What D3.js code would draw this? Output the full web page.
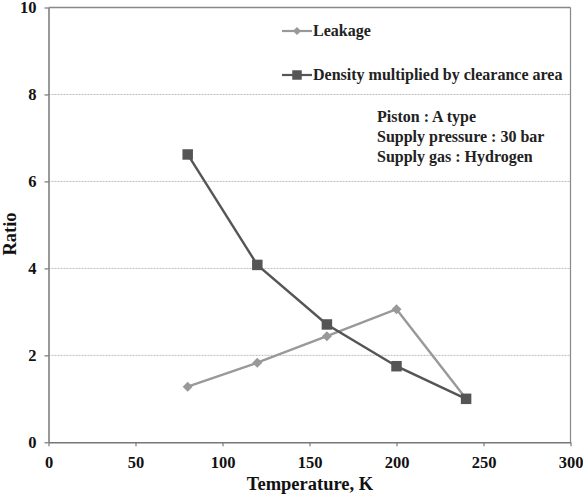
<!DOCTYPE html>
<html><head><meta charset="utf-8">
<script src="https://cdn.jsdelivr.net/npm/d3@7"></script>
<style>body{margin:0;background:#fff}svg{display:block}</style>
</head><body>
<svg id="c" width="583" height="495"></svg>
<script>
const temps = [80, 120, 160, 200, 240];
const leakage = [1.28, 1.83, 2.44, 3.06, 1.0];
const density = [6.62, 4.08, 2.71, 1.75, 1.0];
const xTicks = [0, 50, 100, 150, 200, 250, 300];
const yTicks = [0, 2, 4, 6, 8, 10];
const seriesNames = ["Leakage", "Density multiplied by clearance area"];
const notes = ["Piston : A type", "Supply pressure : 30 bar", "Supply gas : Hydrogen"];

const svg = d3.select("#c");
const font = "'Liberation Serif','Times New Roman',serif";
const x = d3.scaleLinear().domain([0, 300]).range([48.5, 570.5]);
const y = d3.scaleLinear().domain([0, 10]).range([442.3, 7.5]);

// grid
svg.append("g").selectAll("line").data(yTicks.filter(d => d > 0 && d < 10)).join("line")
  .attr("x1", x(0)).attr("x2", x(300)).attr("y1", d => y(d)).attr("y2", d => y(d))
  .attr("stroke", "#bbb").attr("stroke-width", 1).attr("stroke-dasharray", "2,1");
// top and right border
svg.append("line").attr("x1", x(0)).attr("x2", x(300)).attr("y1", y(10)).attr("y2", y(10))
  .attr("stroke", "#888").attr("stroke-width", 1.5);
svg.append("line").attr("x1", x(300)).attr("x2", x(300)).attr("y1", y(10)).attr("y2", y(0))
  .attr("stroke", "#888").attr("stroke-width", 1.2);

// axes
const xa = svg.append("g").attr("transform", `translate(0,${y(0)})`)
  .call(d3.axisBottom(x).tickValues(xTicks).tickSize(4).tickSizeOuter(0).tickPadding(10));
const ya = svg.append("g").attr("transform", `translate(${x(0)},0)`)
  .call(d3.axisLeft(y).tickValues(yTicks).tickSize(4).tickSizeOuter(0).tickPadding(8));
[xa, ya].forEach(a => {
  a.select(".domain").attr("stroke", "#777").attr("stroke-width", 1.5);
  a.selectAll(".tick line").attr("stroke", "#777").attr("stroke-width", 1.2);
  a.selectAll("text").attr("font-family", font).attr("font-weight", "bold")
    .attr("font-size", 16.5).attr("fill", "#111");
});

const line = d3.line().x(d => x(d[0])).y(d => y(d[1]));
const cols = ["#999", "#555"];
const dataL = temps.map((t, i) => [t, leakage[i]]);
const dataD = temps.map((t, i) => [t, density[i]]);

function marker(sel, type, big) {
  if (type === "d") {
    sel.attr("d", d3.symbol().type(d3.symbolSquare).size(big ? 50 : 34))
  } else {
    sel.attr("d", d3.symbol().type(d3.symbolSquare).size(big ? 110 : 90));
  }
}
function drawSeries(data, col, type) {
  svg.append("path").datum(data).attr("d", line).attr("fill", "none")
    .attr("stroke", col).attr("stroke-width", 2.4);
  const m = svg.append("g").selectAll("path").data(data).join("path")
    .attr("transform", d => `translate(${x(d[0])},${y(d[1])})` + (type === "d" ? " rotate(45)" : ""))
    .attr("fill", col);
  marker(m, type, true);
}
drawSeries(dataL, cols[0], "d");
drawSeries(dataD, cols[1], "s");

// legend
const leg = [[31, cols[0], "d"], [75, cols[1], "s"]];
leg.forEach((l, i) => {
  const g = svg.append("g");
  g.append("line").attr("x1", 282).attr("x2", 312).attr("y1", l[0]).attr("y2", l[0])
    .attr("stroke", l[1]).attr("stroke-width", 2.2);
  const m = g.append("path").attr("transform", `translate(297,${l[0]})` + (l[2] === "d" ? " rotate(45)" : ""))
    .attr("fill", l[1]);
  marker(m, l[2], false);
  g.append("text").attr("x", 313).attr("y", l[0] + 5).text(seriesNames[i])
    .attr("font-family", font).attr("font-weight", "bold").attr("font-size", 16).attr("fill", "#222");
});
svg.append("g").selectAll("text").data(notes).join("text")
  .attr("x", 377).attr("y", (d, i) => 122 + i * 20).text(d => d)
  .attr("font-family", font).attr("font-weight", "bold").attr("font-size", 16).attr("fill", "#222");

// axis titles
svg.append("text").attr("x", 310).attr("y", 490).attr("text-anchor", "middle")
  .text("Temperature, K").attr("font-family", font).attr("font-weight", "bold")
  .attr("font-size", 18.5).attr("fill", "#111");
svg.append("text").attr("transform", "translate(16,234) rotate(-90)").attr("text-anchor", "middle")
  .text("Ratio").attr("font-family", font).attr("font-weight", "bold")
  .attr("font-size", 18.5).attr("fill", "#111");
</script>
</body></html>
